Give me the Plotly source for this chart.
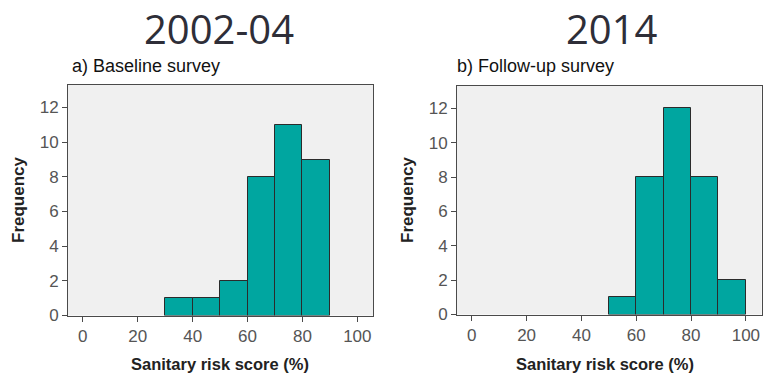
import plotly.graph_objects as go

# Histogram bins (lower edges, %) and counts for each survey
bin_edges = [0, 10, 20, 30, 40, 50, 60, 70, 80, 90]
baseline_counts = [0, 0, 0, 1, 1, 2, 8, 11, 9, 0]
followup_counts = [0, 0, 0, 0, 0, 1, 8, 12, 8, 2]
bin_width = 10

x_ticks = [0, 20, 40, 60, 80, 100]
y_ticks = [0, 2, 4, 6, 8, 10, 12]

period_titles = ["2002-04", "2014"]
panel_labels = ["a) Baseline survey", "b) Follow-up survey"]
x_title = "Sanitary risk score (%)"
y_title = "Frequency"

W, H = 763, 376
BAR = "#00a6a0"
EDGE = "#2b2b2b"
FRAME = "#4a4a4a"
TICKTXT = "#555555"

fig = go.Figure()

series = [baseline_counts, followup_counts]
for i, counts in enumerate(series):
    xs = [e + bin_width / 2 for e, c in zip(bin_edges, counts) if c > 0]
    ys = [c for c in counts if c > 0]
    fig.add_trace(go.Bar(
        x=xs, y=ys, width=bin_width,
        marker=dict(color=BAR, line=dict(color=EDGE, width=1)),
        xaxis="x" if i == 0 else "x2",
        yaxis="y" if i == 0 else "y2",
        showlegend=False, hoverinfo="x+y",
    ))

# panel pixel boxes: (left, right, top, bottom)
boxes = [(68, 373, 85, 315.5), (457, 761.5, 86, 314.5)]

def xdom(b):
    return [b[0] / W, b[1] / W]

def ydom(b):
    return [1 - b[3] / H, 1 - b[2] / H]

axis_common = dict(
    showline=True, linecolor=FRAME, linewidth=1, mirror=True,
    ticks="outside", ticklen=5, tickcolor=FRAME, tickwidth=1,
    showgrid=False, zeroline=False, automargin=False,
    tickfont=dict(family="Liberation Sans, Arial", size=17, color=TICKTXT),
)

layout = dict(
    width=W, height=H,
    margin=dict(l=0, r=0, t=0, b=0, autoexpand=False),
    paper_bgcolor="white",
    plot_bgcolor="#f0f0f0",
    bargap=0,
)
for i, b in enumerate(boxes):
    sx = "" if i == 0 else "2"
    layout["xaxis" + sx] = dict(axis_common, domain=xdom(b), range=[-5.4, 105.7],
                                tickvals=x_ticks, anchor="y" + sx)
    layout["yaxis" + sx] = dict(axis_common, domain=ydom(b), range=[0, 13.3],
                                tickvals=y_ticks, anchor="x" + sx)

fig.update_layout(**layout)

annos = []
title_x = [219, 612]
label_x = [70, 455]
frq_x = [18, 407]
xt_x = [220, 605]
for i in range(2):
    annos.append(dict(text=period_titles[i], x=title_x[i] / W, y=1 - 28 / H,
                      xref="paper", yref="paper", showarrow=False,
                      xanchor="center", yanchor="middle",
                      font=dict(family="Open Sans", size=40, color="#2e2e38")))
    annos.append(dict(text=panel_labels[i], x=label_x[i] / W, y=1 - 66 / H,
                      xref="paper", yref="paper", showarrow=False,
                      xanchor="left", yanchor="middle",
                      font=dict(family="Liberation Sans, Arial", size=18, color="#111111")))
    annos.append(dict(text="<b>" + y_title + "</b>", x=frq_x[i] / W, y=1 - 200 / H,
                      xref="paper", yref="paper", showarrow=False, textangle=-90,
                      xanchor="center", yanchor="middle",
                      font=dict(family="Liberation Sans, Arial", size=17, color="#222222")))
    annos.append(dict(text="<b>" + x_title + "</b>", x=xt_x[i] / W, y=1 - 364 / H,
                      xref="paper", yref="paper", showarrow=False,
                      xanchor="center", yanchor="middle",
                      font=dict(family="Liberation Sans, Arial", size=16.5, color="#222222")))
fig.update_layout(annotations=annos)

fig.write_html("out.html")
